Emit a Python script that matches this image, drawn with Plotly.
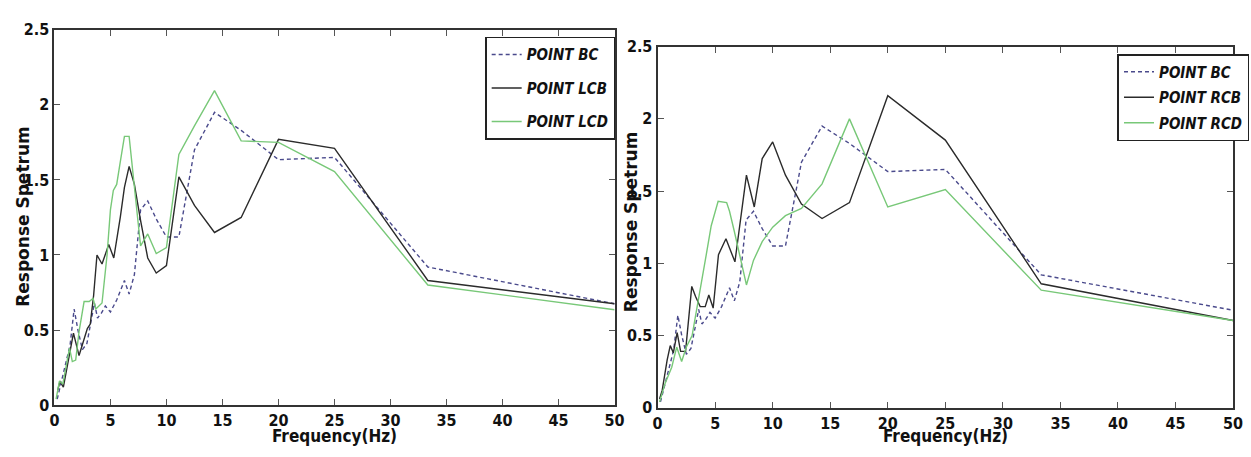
import plotly.graph_objects as go

# ---------------- data ----------------
bc_freq = [0.25, 0.6, 1.0, 1.4, 1.76, 2.1, 2.5, 2.9, 3.2, 3.57, 3.85, 4.17, 4.55, 5.0, 5.56,
           6.25, 6.67, 7.14, 7.69, 8.33, 9.09, 10.0, 11.11, 12.5, 14.29, 16.67, 20.0, 25.0, 33.33, 50.0]
bc_val = [0.04, 0.15, 0.27, 0.40, 0.64, 0.50, 0.37, 0.41, 0.53, 0.68, 0.58, 0.61, 0.66, 0.62, 0.70,
          0.83, 0.74, 0.87, 1.30, 1.36, 1.24, 1.12, 1.12, 1.70, 1.95, 1.83, 1.635, 1.65, 0.92, 0.675]

lcb_freq = [0.3, 0.5, 0.8, 1.05, 1.4, 1.7, 2.2, 2.6, 2.94, 3.2, 3.5, 3.8, 4.25, 4.85, 5.3, 5.88,
            6.25, 6.67, 7.14, 7.69, 8.33, 9.09, 10.0, 11.11, 12.5, 14.29, 16.67, 20.0, 25.0, 33.33, 50.0]
lcb_val = [0.10, 0.16, 0.12, 0.22, 0.36, 0.48, 0.33, 0.42, 0.51, 0.54, 0.73, 1.00, 0.94, 1.07, 0.98, 1.25,
           1.45, 1.59, 1.47, 1.23, 0.98, 0.88, 0.93, 1.52, 1.33, 1.15, 1.25, 1.77, 1.71, 0.83, 0.675]

lcd_freq = [0.15, 0.45, 0.75, 1.2, 1.35, 1.6, 1.9, 2.2, 2.65, 3.1, 3.45, 3.7, 4.25, 4.7, 5.0, 5.26,
            5.56, 5.88, 6.25, 6.67, 7.14, 7.69, 8.33, 9.09, 10.0, 11.11, 12.5, 14.29, 16.67, 20.0,
            25.0, 33.33, 50.0]
lcd_val = [0.04, 0.16, 0.14, 0.32, 0.38, 0.29, 0.30, 0.49, 0.69, 0.69, 0.71, 0.64, 0.68, 1.00, 1.30, 1.43,
           1.47, 1.62, 1.79, 1.79, 1.43, 1.06, 1.14, 1.01, 1.05, 1.67, 1.86, 2.095, 1.76, 1.75,
           1.555, 0.80, 0.635]

rcb_freq = [0.17, 0.4, 0.83, 1.1, 1.37, 1.7, 2.0, 2.43, 2.97, 3.3, 3.7, 4.14, 4.45, 4.83, 5.29, 5.94,
            6.72, 7.72, 8.4, 9.09, 10.0, 11.11, 12.5, 14.29, 16.67, 20.0, 25.0, 33.33, 50.0]
rcb_val = [0.06, 0.12, 0.33, 0.43, 0.38, 0.52, 0.39, 0.39, 0.84, 0.77, 0.70, 0.70, 0.78, 0.69, 1.06, 1.17,
           1.01, 1.61, 1.39, 1.725, 1.84, 1.61, 1.41, 1.31, 1.42, 2.16, 1.853, 0.858, 0.604]

rcd_freq = [0.17, 0.66, 1.23, 1.66, 2.09, 2.5, 3.0, 3.37, 3.8, 4.23, 4.66, 5.26, 6.0, 6.25, 6.67,
            7.14, 7.72, 8.33, 9.09, 10.0, 11.11, 12.5, 14.29, 16.67, 20.0, 25.0, 33.33, 50.0]
rcd_val = [0.04, 0.17, 0.28, 0.42, 0.32, 0.42, 0.50, 0.66, 0.85, 1.06, 1.26, 1.43, 1.42, 1.36, 1.22,
           1.05, 0.85, 1.02, 1.15, 1.25, 1.33, 1.38, 1.55, 2.0, 1.39, 1.51, 0.814, 0.604]

x_ticks = [0, 5, 10, 15, 20, 25, 30, 35, 40, 45, 50]
y_ticks = [0, 0.5, 1, 1.5, 2, 2.5]
y_tick_text = ["0", "0.5", "1", "1.5", "2", "2.5"]

left_names = ["POINT BC", "POINT LCB", "POINT LCD"]
right_names = ["POINT BC", "POINT RCB", "POINT RCD"]

# ---------------- style ----------------
W, H = 1251, 457
C_BC = "#4a4a8c"
C_BLK = "#2b2b2b"
C_GRN = "#78c878"
NARROW = "DejaVu Sans Condensed, Liberation Sans Narrow, sans-serif"
WIDE = "DejaVu Sans, sans-serif"

fig = go.Figure()

def add(x, y, name, color, dash, xa, ya, legend, group, width=1.4):
    fig.add_trace(go.Scatter(x=x, y=y, mode="lines", name=name,
                             line=dict(color=color, dash=dash, width=width),
                             xaxis=xa, yaxis=ya, legend=legend, legendgroup=group))

add(bc_freq, bc_val, left_names[0], C_BC, "4px,3px", "x", "y", "legend", "a")
add(lcb_freq, lcb_val, left_names[1], C_BLK, "solid", "x", "y", "legend", "b")
add(lcd_freq, lcd_val, left_names[2], C_GRN, "solid", "x", "y", "legend", "c")
add(bc_freq, bc_val, right_names[0], C_BC, "4px,3px", "x2", "y2", "legend2", "d")
add(rcb_freq, rcb_val, right_names[1], C_BLK, "solid", "x2", "y2", "legend2", "e")
add(rcd_freq, rcd_val, right_names[2], C_GRN, "solid", "x2", "y2", "legend2", "f")

tickfont = dict(family=NARROW, size=16, color="#111", weight="bold")
axis_common = dict(showline=True, linecolor="#333", linewidth=2, mirror="ticks",
                   ticks="inside", ticklen=6, tickcolor="#555", tickwidth=1,
                   showgrid=False, zeroline=False, tickfont=tickfont)

def px(xp):
    return xp / W

def py(yp):
    return 1 - yp / H

legend_font = dict(family=NARROW, size=15, color="#111", style="italic", weight="bold")

fig.update_layout(
    width=W, height=H,
    margin=dict(l=0, r=0, t=0, b=0),
    paper_bgcolor="white", plot_bgcolor="white",
    showlegend=True,
    xaxis=dict(domain=[px(50), px(617)], range=[0, 50], tickvals=x_ticks, anchor="y", **axis_common),
    yaxis=dict(domain=[py(413.3), py(21.7)], range=[0, 2.5], tickvals=y_ticks, ticktext=y_tick_text,
               anchor="x", **axis_common),
    xaxis2=dict(domain=[px(660.5), px(1243)], range=[0, 50], tickvals=x_ticks, anchor="y2", **axis_common),
    yaxis2=dict(domain=[py(416), py(39.3)], range=[0, 2.5], tickvals=y_ticks, ticktext=y_tick_text,
                anchor="x2", **axis_common),
    legend=dict(x=px(486), y=py(29), xanchor="left", yanchor="top",
                bgcolor="white", bordercolor="#222", borderwidth=1.5,
                font=legend_font, tracegroupgap=11, itemwidth=30),
    legend2=dict(x=px(1126), y=py(47), xanchor="left", yanchor="top",
                 bgcolor="white", bordercolor="#222", borderwidth=1.5,
                 font=legend_font, tracegroupgap=3, itemwidth=30),
)

title_font_y = dict(family=WIDE, size=17, color="#111", weight="bold")
title_font_x = dict(family=NARROW, size=17, color="#111", weight="bold")

fig.add_annotation(text="Response Spetrum", x=px(18), y=py(216), xref="paper", yref="paper",
                   textangle=-90, showarrow=False, font=title_font_y, xanchor="center", yanchor="middle")
fig.add_annotation(text="Response Spetrum", x=px(633), y=py(222), xref="paper", yref="paper",
                   textangle=-90, showarrow=False, font=title_font_y, xanchor="center", yanchor="middle")
fig.add_annotation(text="Frequency(Hz)", x=px(333), y=py(446), xref="paper", yref="paper",
                   showarrow=False, font=title_font_x, xanchor="center", yanchor="middle", borderpad=0)
fig.add_annotation(text="Frequency(Hz)", x=px(952), y=py(446), xref="paper", yref="paper",
                   showarrow=False, font=title_font_x, xanchor="center", yanchor="middle", borderpad=0)

fig.write_html("out.html")
